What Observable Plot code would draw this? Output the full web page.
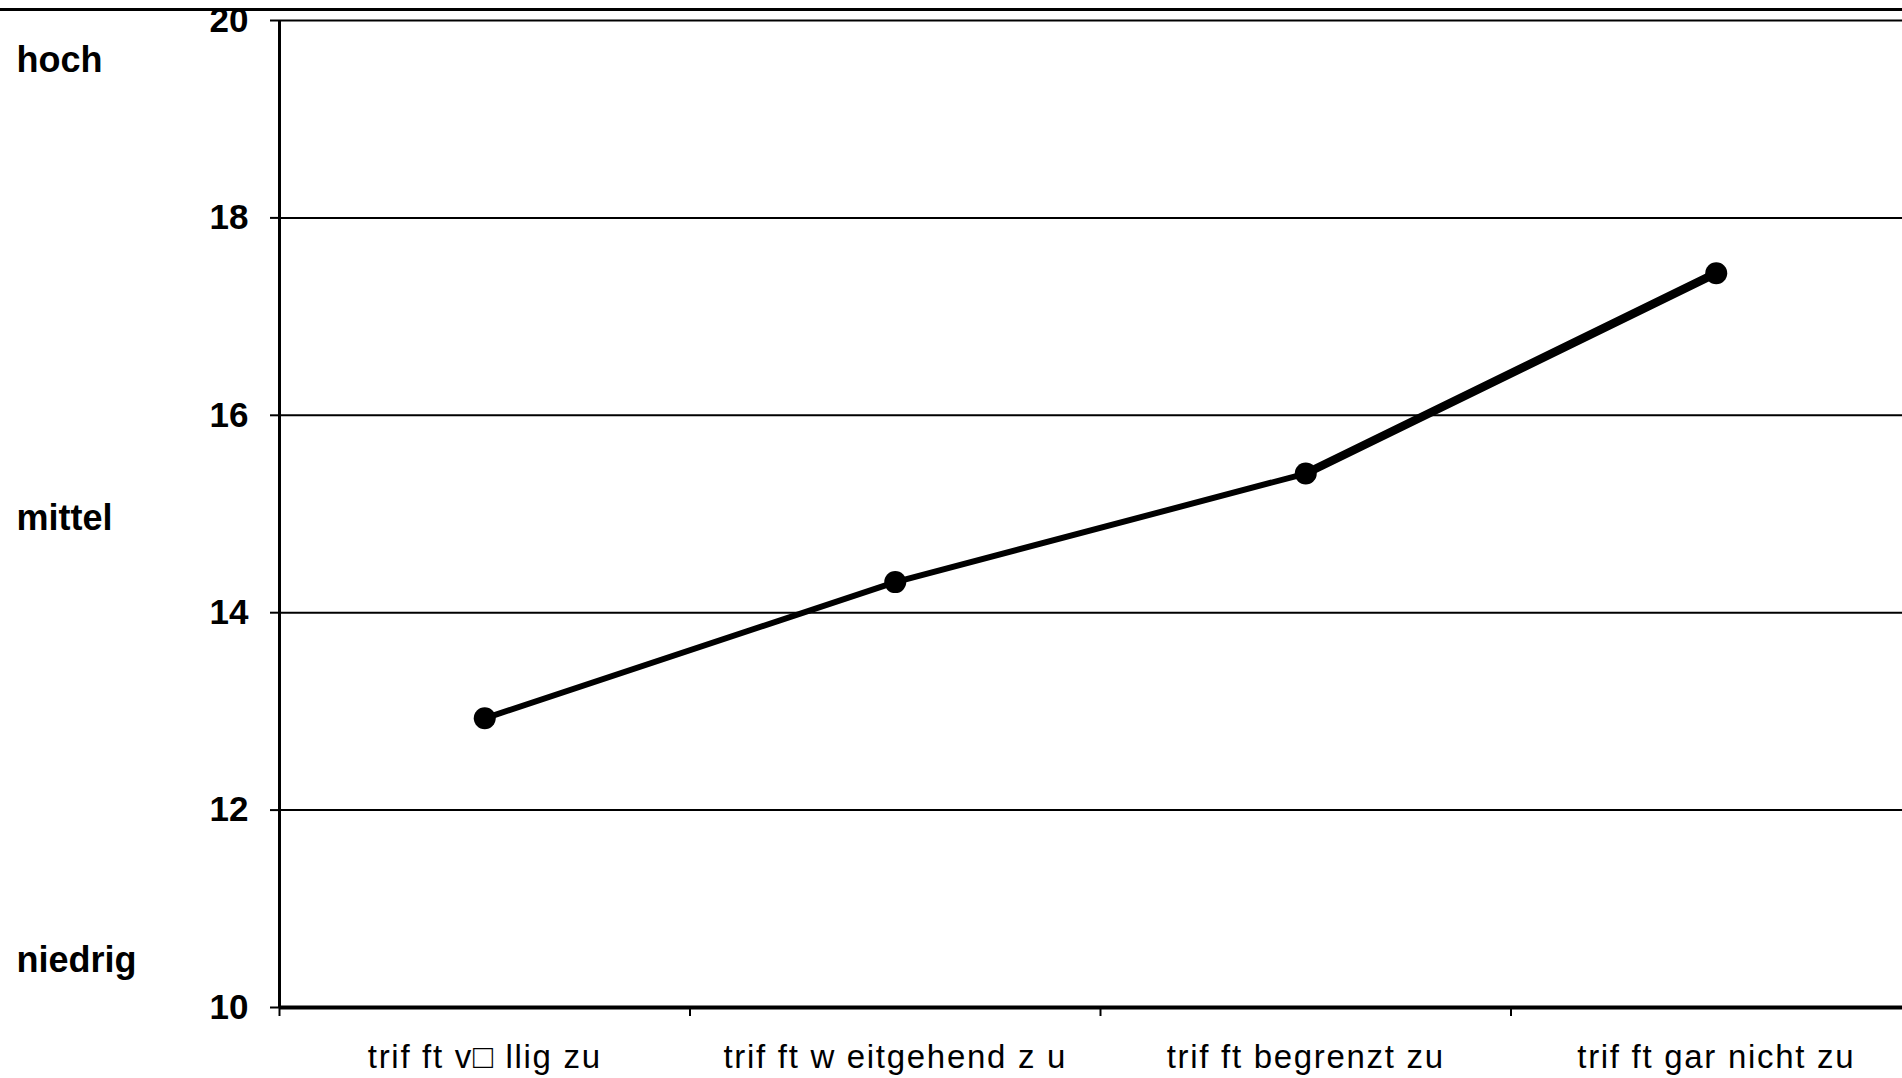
<!DOCTYPE html>
<html>
<head>
<meta charset="utf-8">
<script src="https://cdn.jsdelivr.net/npm/d3@7"></script>
<script src="https://cdn.jsdelivr.net/npm/@observablehq/plot@0.6"></script>
<style>
  html, body { margin: 0; padding: 0; background: #fff; }
  #wrap { position: relative; width: 1902px; height: 1078px; overflow: hidden; }
  #topline { position: absolute; left: 0; top: 8px; width: 1902px; height: 3px; background: #000; }
</style>
</head>
<body>
<div id="wrap">
  <div id="chart"></div>
  <div id="topline"></div>
</div>
<script>
// Response categories (as printed) and mean scores
const categories = ["trif ft v\u25A1 llig zu", "trif ft w eitgehend z u", "trif ft begrenzt zu", "trif ft gar nicht zu"];
const values = [12.93, 14.31, 15.41, 17.44];
const yTicks = [10, 12, 14, 16, 18, 20];
const levelLabels = ["hoch", "mittel", "niedrig"];
const levelValues = [19.6, 14.95, 10.48];

const points = values.map((v, i) => ({x: i + 0.5, y: v}));
const segments = values.slice(1).map((v, i) => ({x1: i + 0.5, y1: values[i], x2: i + 1.5, y2: v}));

const chart = Plot.plot({
  width: 1902,
  height: 1078,
  marginTop: 20,
  marginBottom: 71,
  marginLeft: 279,
  marginRight: 0,
  style: {fontFamily: "'Liberation Sans', Arial, Helvetica, sans-serif", color: "#000", background: "#fff", overflow: "visible"},
  x: {type: "linear", domain: [0, 4], range: [279, 1921]},
  y: {domain: [10, 20]},
  marks: [
    Plot.ruleY(yTicks, {stroke: "#000", strokeWidth: 2}),
    Plot.ruleX([0], {stroke: "#000", strokeWidth: 3}),
    Plot.ruleY([10], {stroke: "#000", strokeWidth: 4}),
    Plot.axisY({ticks: yTicks, tickSize: 9, tickPadding: 22, fontSize: 35, fontWeight: "bold",
      tickFormat: d => String(d), label: null, strokeWidth: 2}),
    Plot.axisX({ticks: [0, 1, 2, 3], tickSize: 9, tickFormat: () => "", label: null, strokeWidth: 2}),
    Plot.axisX({ticks: [0.5, 1.5, 2.5, 3.5], tickSize: 0, tickPadding: 37, fontSize: 33,
      tickFormat: d => categories[Math.round(d - 0.5)], label: null}),
    Plot.link(segments, {x1: "x1", y1: "y1", x2: "x2", y2: "y2", stroke: "#000",
      strokeWidth: (d, i) => (i === 2 ? 8.5 : 6), strokeLinecap: "round"}),
    Plot.dot(points, {x: "x", y: "y", r: 11, fill: "#000", stroke: "none"}),
    Plot.text(levelLabels, {y: (d, i) => levelValues[i], text: d => d, frameAnchor: "left",
      dx: -263, textAnchor: "start", fontSize: 36, fontWeight: "bold", fill: "#000"})
  ]
});

document.getElementById("chart").appendChild(chart);
d3.select(chart).selectAll('g[aria-label="x-axis tick label"] text').style("letter-spacing", "1.7px");
</script>
</body>
</html>
